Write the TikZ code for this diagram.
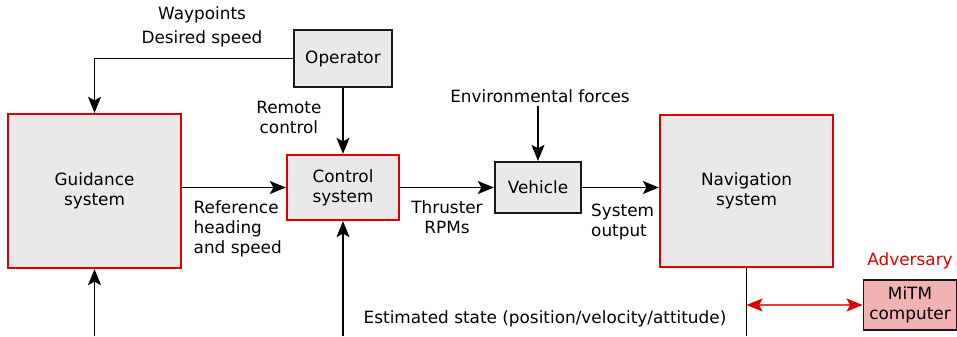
\documentclass[tikz,border=0pt]{standalone}
\usepackage{fontspec}
\setmainfont{DejaVu Sans}
\usepackage{tikz}
\usepackage{xcolor}
\usetikzlibrary{arrows.meta}

\definecolor{boxgray}{RGB}{233,233,233}
\definecolor{advred}{RGB}{222,0,0}
\definecolor{advline}{RGB}{228,64,64}
\definecolor{mitmfill}{RGB}{242,178,178}

\begin{document}
\begin{tikzpicture}[node distance=1.5cm,auto,font=\fontsize{9.6pt}{11.4pt}\selectfont]
\tikzstyle{graybox}=[draw=black!90, fill=boxgray, line width=1pt, align=center]
\tikzstyle{redbox}=[draw=advred, fill=boxgray, line width=1pt, align=center]
\tikzstyle{lbl}=[align=center, inner sep=2pt]
\tikzstyle{arr}=[-{Stealth[length=0.32cm,width=0.26cm,inset=0.07cm]}, line width=0.8pt]
\useasboundingbox (-6.86,-2.97) rectangle (12.28,3.75);

\node (ctrl) [redbox, minimum width=2.25cm, minimum height=1.31cm] {Control\\system};
\node (op) [above of=ctrl, node distance=2.58cm, graybox, minimum width=1.95cm, minimum height=1.15cm] {Operator};
\node (guid) [left of=ctrl, node distance=4.97cm, yshift=-0.07cm, redbox, minimum width=3.47cm, minimum height=3.09cm] {Guidance\\system};
\node (veh) [right of=ctrl, node distance=3.9cm, graybox, minimum width=1.73cm, minimum height=1.03cm] {Vehicle};
\node (nav) [right of=veh, node distance=4.17cm, yshift=-0.07cm, redbox, minimum width=3.47cm, minimum height=3.05cm] {Navigation\\system};
\node (mitm) [below of=nav, node distance=2.28cm, xshift=3.27cm, draw=black!90, fill=mitmfill, line width=1pt, align=center, minimum width=1.83cm, minimum height=1.01cm] {MiTM\\computer};
\node (adv) [above of=mitm, node distance=0.88cm, text=advred] {Adversary};

\node (env) [above of=veh, node distance=1.83cm, xshift=0.04cm, lbl] {Environmental forces};
\node (wp) [above of=op, node distance=0.63cm, xshift=-2.82cm, lbl] {Waypoints\\[2.3pt]Desired speed};
\node (est) [below of=veh, node distance=2.63cm, xshift=0.14cm, lbl] {Estimated state (position/velocity/attitude)};
\node (bot) [coordinate, below of=ctrl, node distance=2.97cm] {};

\draw[arr] (op) -| (guid);
\path[arr] (op) edge node[left=0.3cm, align=center, pos=0.45] {Remote\\control} (ctrl);
\draw[arr] (ctrl -| guid.east) -- node[below right, pos=0, align=left, xshift=0.1cm, yshift=-0.14cm] {Reference\\heading\\and speed} (ctrl);
\path[arr] (ctrl) edge node[below, align=center, yshift=-0.13cm] {Thruster\\RPMs} (veh);
\draw[arr] (veh.north |- env.south) -- (veh);
\draw[arr] (veh) -- node[below right, pos=0, align=left, xshift=0.05cm, yshift=-0.2cm] {System\\output} (veh -| nav.west);

\draw[arr] (guid.south |- bot) -- (guid);
\draw[arr] (ctrl.south |- bot) -- (ctrl);
\draw[line width=0.8pt] (nav.south) -- (nav.south |- bot);
\draw[{Stealth[length=0.32cm,width=0.26cm,inset=0.07cm,color=advred]}-{Stealth[length=0.32cm,width=0.26cm,inset=0.07cm,color=advred]}, advline, line width=1pt] (nav.south |- mitm) -- (mitm);
\end{tikzpicture}
\end{document}
